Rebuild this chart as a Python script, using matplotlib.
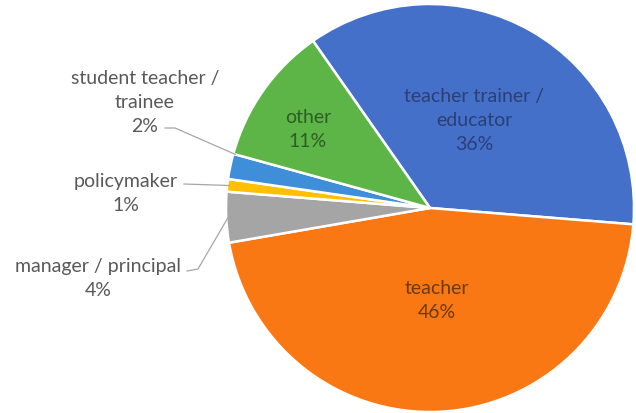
import matplotlib
matplotlib.use('Agg')
import matplotlib.pyplot as plt
import numpy as np

# Respondent roles, in clockwise order starting at the top of the pie
roles = ['teacher trainer /\neducator', 'teacher', 'manager / principal',
         'policymaker', 'student teacher /\ntrainee', 'other']
shares = [36, 46, 4, 1, 2, 11]
colors = ['#4470CA', '#FA7814', '#A5A5A5', '#FFC000', '#3E8EDA', '#5DB548']
text_colors = ['#2B3F75', '#6B3A12', '#595959', '#595959', '#595959', '#2D5E22']

W, H = 636, 414
CX, CY, R = 430, 209, 204


def px(x, y):
    # pixel position -> data units with the pie centred at the origin
    return (x - CX) / R, (CY - y) / R


plt.rcParams['font.family'] = ['Lato', 'DejaVu Sans']
fig = plt.figure(figsize=(W / 100, H / 100), dpi=100)
ax = fig.add_axes([0, 0, 1, 1])

wedges, _ = ax.pie(shares, colors=colors, startangle=125, counterclock=False,
                   radius=1, wedgeprops=dict(edgecolor='white', linewidth=1.8))

FS = 14
LS = 1.5

# labels drawn inside the big slices
inside = {0: (474, 121), 1: (437, 301), 5: (308, 130)}
for i, (x, y) in inside.items():
    ax.text(*px(x, y), f'{roles[i]}\n{shares[i]}%', ha='center', va='center',
            fontsize=FS, color=text_colors[i], linespacing=LS)

# small slices get labels outside with a leader line
outside = {
    4: ((145, 103), [(165, 129), (175, 129)], 0.0),
    3: ((126, 194), [(184, 185)], 0.5),
    2: ((98, 279), [(187, 272), (198, 270)], 0.5),
}
for i, ((x, y), pts, frac) in outside.items():
    ax.text(*px(x, y), f'{roles[i]}\n{shares[i]}%', ha='center', va='center',
            fontsize=FS, color=text_colors[i], linespacing=LS)
    w = wedges[i]
    ang = np.deg2rad(w.theta1 + (w.theta2 - w.theta1) * frac)
    tip = (np.cos(ang) * 0.99, np.sin(ang) * 0.99)
    line = [px(*p) for p in pts] + [tip]
    xs, ys = zip(*line)
    ax.plot(xs, ys, color='#A6A6A6', lw=0.9)

ax.set_xlim(-CX / R, (W - CX) / R)
ax.set_ylim(-(H - CY) / R, CY / R)
ax.set_aspect('equal')
ax.axis('off')

fig.savefig('out.png', dpi=100)
